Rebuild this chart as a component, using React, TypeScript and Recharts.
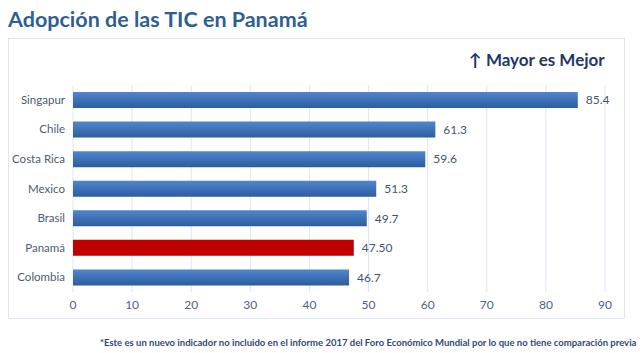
import { BarChart, Bar, XAxis, YAxis, CartesianGrid, Cell, LabelList } from 'recharts';

const countries = ['Singapur', 'Chile', 'Costa Rica', 'Mexico', 'Brasil', 'Panamá', 'Colombia'];
const scores = [85.4, 61.3, 59.6, 51.3, 49.7, 47.5, 46.7];
const scoreLabels = ['85.4', '61.3', '59.6', '51.3', '49.7', '47.50', '46.7'];
const xTicks = [0, 10, 20, 30, 40, 50, 60, 70, 80, 90];
const highlight = 'Panamá';

const data = countries.map((name, i) => ({ name, score: scores[i], label: scoreLabels[i] }));

const FONT = 'Lato, "Open Sans", sans-serif';

export default function App() {
    return (
        <div style={{ position: 'absolute', left: 0, top: 0, width: 640, height: 353, background: '#fff', fontFamily: FONT, overflow: 'hidden' }}>
            <div style={{ position: 'absolute', left: 8, top: 6, fontSize: 21.5, fontWeight: 700, color: '#2f5f91', whiteSpace: 'nowrap' }}>
                Adopción de las TIC en Panamá
            </div>
            <div style={{ position: 'absolute', left: 8, top: 38, width: 617, height: 281, border: '1px solid #dce6f2', boxSizing: 'border-box' }} />
            <div style={{ position: 'absolute', left: 469, top: 49, fontSize: 17, fontWeight: 700, color: '#1f3864', whiteSpace: 'nowrap' }}>
                ↑ Mayor es Mejor
            </div>
            <div style={{ position: 'absolute', left: 0, top: 0 }}>
                <BarChart
                    width={640}
                    height={353}
                    data={data}
                    layout="vertical"
                    margin={{ top: 85, right: 35, bottom: 36, left: 0 }}
                    barCategoryGap={0}
                >
                    <defs>
                        <linearGradient id="blueBar" x1="0" y1="0" x2="0" y2="1">
                            <stop offset="0%" stopColor="#4f86cf" />
                            <stop offset="100%" stopColor="#2c5d9e" />
                        </linearGradient>
                    </defs>
                    <CartesianGrid horizontal={false} stroke="#dce6f2" />
                    <XAxis
                        type="number"
                        domain={[0, 90]}
                        ticks={xTicks}
                        axisLine={false}
                        tickLine={false}
                        height={25}
                        tick={{ fill: '#4e6282', fontSize: 12, fontFamily: FONT }}
                    />
                    <YAxis
                        type="category"
                        dataKey="name"
                        width={73}
                        axisLine={false}
                        tickLine={false}
                        tick={{ fill: '#4f5b6e', fontSize: 11.5, fontFamily: FONT }}
                    />
                    <Bar dataKey="score" barSize={16} isAnimationActive={false}>
                        {data.map((d) => (
                            <Cell key={d.name} fill={d.name === highlight ? '#c00000' : 'url(#blueBar)'} />
                        ))}
                        <LabelList dataKey="label" position="right" offset={8} fill="#44546a" fontSize={12} fontFamily={FONT} />
                    </Bar>
                </BarChart>
            </div>
            <div style={{ position: 'absolute', left: 100, top: 337, width: 532, textAlign: 'center', fontSize: 9.5, fontWeight: 700, color: '#2f4a75', whiteSpace: 'nowrap' }}>
                *Este es un nuevo indicador no incluido en el informe 2017 del Foro Económico Mundial por lo que no tiene comparación previa
            </div>
        </div>
    );
}
